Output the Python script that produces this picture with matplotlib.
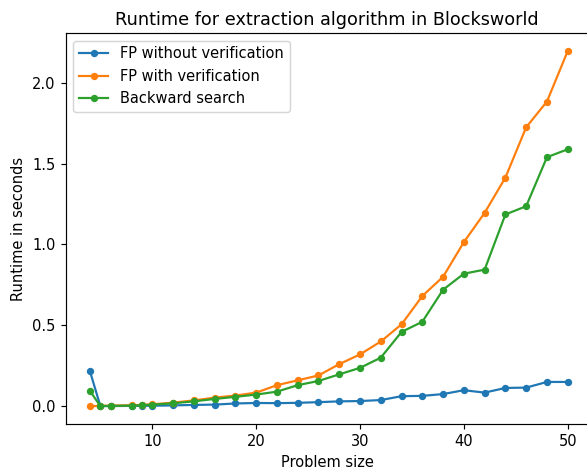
import matplotlib
matplotlib.use("Agg")
import matplotlib.pyplot as plt

sizes = [4, 5, 6, 8, 9, 10, 12, 14, 16, 18, 20, 22, 24, 26, 28, 30, 32, 34, 36, 38, 40, 42, 44, 46, 48, 50]

fp_no_verif = [0.216, 0.001, 0.001, 0.002, 0.002, 0.003, 0.005, 0.008, 0.01, 0.017, 0.02, 0.019, 0.021, 0.025, 0.03,
               0.032, 0.038, 0.062, 0.064, 0.075, 0.099, 0.084, 0.113, 0.115, 0.15, 0.15]
fp_verif = [0.0, 0.002, 0.004, 0.006, 0.008, 0.012, 0.022, 0.036, 0.053, 0.066, 0.084, 0.13, 0.16, 0.19, 0.26,
            0.32, 0.40, 0.506, 0.681, 0.80, 1.014, 1.195, 1.413, 1.724, 1.883, 2.195]
backward = [0.094, 0.001, 0.002, 0.004, 0.006, 0.01, 0.018, 0.03, 0.045, 0.058, 0.072, 0.09, 0.13, 0.156, 0.197,
            0.237, 0.30, 0.459, 0.522, 0.72, 0.819, 0.844, 1.185, 1.236, 1.539, 1.588]

dpi = 105.5
fig, ax = plt.subplots(figsize=(587 / dpi, 469 / dpi), dpi=dpi)
ax.plot(sizes, fp_no_verif, marker="o", markersize=4, label="FP without verification")
ax.plot(sizes, fp_verif, marker="o", markersize=4, label="FP with verification")
ax.plot(sizes, backward, marker="o", markersize=4, label="Backward search")
ax.set_xlim(1.69, 51.97)
ax.set_title("Runtime for extraction algorithm in Blocksworld")
ax.set_xlabel("Problem size")
ax.set_ylabel("Runtime in seconds")
ax.legend(loc="upper left")
fig.subplots_adjust(left=0.1124, right=1.002, top=0.929, bottom=0.096)
fig.savefig("out.png", dpi=dpi)
